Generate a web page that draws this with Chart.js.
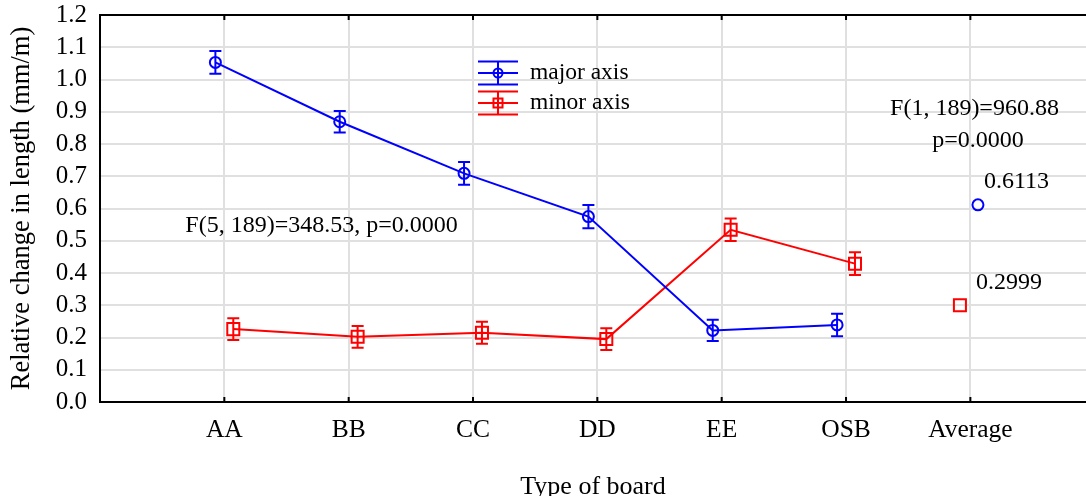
<!DOCTYPE html>
<html><head><meta charset="utf-8">
<script src="https://cdn.jsdelivr.net/npm/chart.js@4"></script>
<style>html,body{margin:0;padding:0;background:#fff;overflow:hidden}canvas{display:block}</style>
</head><body>
<canvas id="c" width="1086" height="496"></canvas>
<script>
const categories = ['AA', 'BB', 'CC', 'DD', 'EE', 'OSB', 'Average'];
const majorMeans = [1.053, 0.869, 0.709, 0.575, 0.222, 0.239];
const majorErr   = [0.035, 0.033, 0.035, 0.036, 0.033, 0.035];
const minorMeans = [0.226, 0.202, 0.215, 0.195, 0.534, 0.429];
const minorErr   = [0.034, 0.034, 0.034, 0.034, 0.035, 0.035];
const majorAverage = 0.6113;
const minorAverage = 0.2999;
const seriesNames = ['major axis', 'minor axis'];
const anovaBoards = 'F(5, 189)=348.53, p=0.0000';
const anovaAxisF = 'F(1, 189)=960.88';
const anovaAxisP = 'p=0.0000';

const FONT = '"Liberation Serif", "Times New Roman", serif';
const BLUE = '#0000ff', RED = '#ff0000';
const avgIdx = categories.length - 1;
const OFF = 0.072;

function pts(vals, off) { return vals.map((v, i) => ({x: i + off, y: v})); }

const annotations = [
  {text: anovaBoards, x: -0.314, y: 0.547, align: 'left'},
  {text: anovaAxisF, x: avgIdx + 0.033, y: 0.910, align: 'center'},
  {text: anovaAxisP, x: avgIdx + 0.061, y: 0.811, align: 'center'},
  {text: majorAverage.toFixed(4), x: avgIdx + 0.109, y: 0.683, align: 'left'},
  {text: minorAverage.toFixed(4), x: avgIdx + 0.045, y: 0.369, align: 'left'}
];

const errorBars = {
  id: 'errorBars',
  afterDatasetsDraw(chart) {
    const ctx = chart.ctx, ys = chart.scales.y;
    chart.data.datasets.forEach((ds, i) => {
      if (!ds.err) return;
      const meta = chart.getDatasetMeta(i);
      ctx.save();
      ctx.strokeStyle = ds.borderColor; ctx.lineWidth = 2;
      meta.data.forEach((el, j) => {
        const v = ds.data[j].y, e = ds.err[j];
        const t = ys.getPixelForValue(v + e), b = ys.getPixelForValue(v - e);
        ctx.beginPath();
        ctx.moveTo(el.x, t); ctx.lineTo(el.x, b);
        ctx.moveTo(el.x - 6, t); ctx.lineTo(el.x + 6, t);
        ctx.moveTo(el.x - 6, b); ctx.lineTo(el.x + 6, b);
        ctx.stroke();
      });
      ctx.restore();
    });
  }
};

const frame = {
  id: 'frame',
  afterDraw(chart) {
    const ctx = chart.ctx, a = chart.chartArea, xs = chart.scales.x;
    ctx.save();
    ctx.strokeStyle = '#000'; ctx.lineWidth = 2;
    ctx.beginPath();
    ctx.moveTo(a.left - 1, a.top); ctx.lineTo(a.right, a.top);
    categories.forEach((c, i) => {
      const x = xs.getPixelForValue(i);
      ctx.moveTo(x, a.bottom); ctx.lineTo(x, a.bottom - 5);
      ctx.moveTo(x, a.top); ctx.lineTo(x, a.top + 5);
    });
    ctx.stroke();
    // annotations
    ctx.fillStyle = '#000';
    ctx.font = '24px ' + FONT;
    ctx.textBaseline = 'middle';
    annotations.forEach(an => {
      ctx.textAlign = an.align;
      ctx.fillText(an.text, xs.getPixelForValue(an.x), chart.scales.y.getPixelForValue(an.y));
    });
    // legend
    const lx0 = 478, lx1 = 518, cx = 498, rows = [73, 103];
    ctx.font = '23.5px ' + FONT;
    chart.data.datasets.slice(0, 2).forEach((ds, k) => {
      const y = rows[k];
      ctx.strokeStyle = ds.borderColor; ctx.lineWidth = 2;
      ctx.beginPath();
      [-11.5, 0, 11.5].forEach(d => { ctx.moveTo(lx0, y + d); ctx.lineTo(lx1, y + d); });
      ctx.moveTo(cx, y - 11.5); ctx.lineTo(cx, y + 11.5);
      ctx.stroke();
      ctx.beginPath();
      if (k === 0) ctx.arc(cx, y, 4.5, 0, Math.PI * 2);
      else ctx.rect(cx - 4.5, y - 4.5, 9, 9);
      ctx.stroke();
      ctx.fillStyle = '#000'; ctx.textAlign = 'left';
      ctx.fillText(ds.label, 530, y);
    });
    ctx.restore();
  }
};

Chart.defaults.font.family = FONT;
Chart.defaults.color = '#000';

new Chart(document.getElementById('c'), {
  type: 'line',
  data: {
    datasets: [
      {label: seriesNames[0], data: pts(majorMeans, -OFF), err: majorErr,
       borderColor: BLUE, backgroundColor: 'transparent', borderWidth: 2,
       pointStyle: 'circle', pointRadius: 5.5, pointBorderWidth: 2, pointBackgroundColor: 'transparent', tension: 0},
      {label: seriesNames[1], data: pts(minorMeans, OFF), err: minorErr,
       borderColor: RED, backgroundColor: 'transparent', borderWidth: 2,
       pointStyle: 'rect', pointRadius: 8.5, pointBorderWidth: 2, pointBackgroundColor: 'transparent', tension: 0},
      {label: seriesNames[0] + ' average', data: [{x: avgIdx + 0.061, y: majorAverage}], showLine: false,
       borderColor: BLUE, pointStyle: 'circle', pointRadius: 5.5, pointBorderWidth: 2, pointBackgroundColor: 'transparent'},
      {label: seriesNames[1] + ' average', data: [{x: avgIdx - 0.084, y: minorAverage}], showLine: false,
       borderColor: RED, pointStyle: 'rect', pointRadius: 8.5, pointBorderWidth: 2, pointBackgroundColor: 'transparent'}
    ]
  },
  options: {
    responsive: false,
    animation: false,
    layout: {autoPadding: false, padding: {top: 15, right: 0, left: 0, bottom: 0}},
    plugins: {legend: {display: false}, tooltip: {enabled: false}},
    elements: {point: {hitRadius: 0, hoverRadius: 0}},
    scales: {
      x: {
        type: 'linear', min: -1, max: 6.93,
        afterBuildTicks(s) { s.ticks = categories.map((c, i) => ({value: i})); },
        afterFit(s) { s.height = 94; s.paddingLeft = 0; s.paddingRight = 0; },
        ticks: {callback: v => categories[v], font: {size: 25.5}, padding: 13, autoSkip: false, maxRotation: 0},
        grid: {color: '#e0e0e0', lineWidth: 2, drawTicks: false},
        border: {display: true, color: '#000', width: 2},
        title: {display: true, text: 'Type of board', font: {size: 26, lineHeight: 0.65}, padding: 0}
      },
      y: {
        min: 0, max: 1.2,
        afterFit(s) { s.width = 100; s.paddingTop = 0; s.paddingBottom = 0; },
        ticks: {stepSize: 0.1, autoSkip: false, callback: v => Number(v).toFixed(1), font: {size: 25}, padding: 13},
        grid: {color: '#e0e0e0', lineWidth: 2, drawTicks: false},
        border: {display: true, color: '#000', width: 2},
        title: {display: true, text: 'Relative change in length (mm/m)', font: {size: 26.5, lineHeight: 1.2}, padding: {top: 6, bottom: 0}}
      }
    }
  },
  plugins: [errorBars, frame]
});
</script>
</body></html>
